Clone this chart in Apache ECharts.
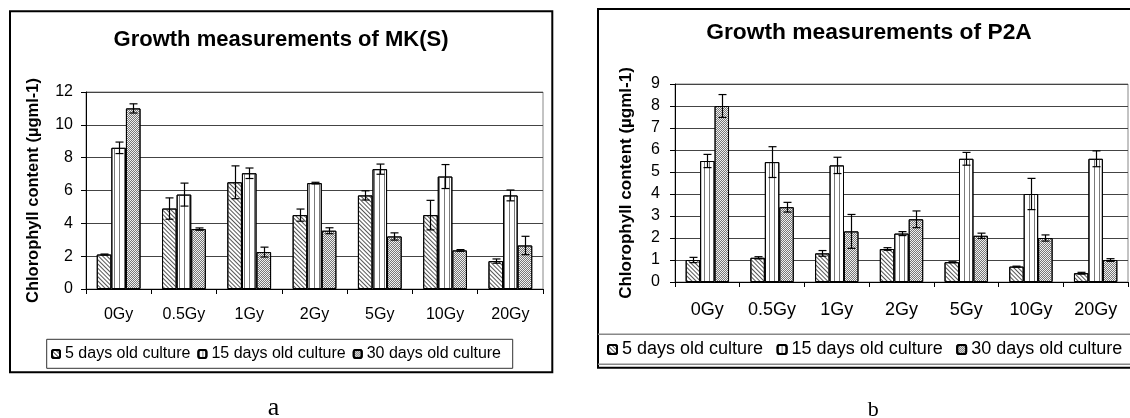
<!DOCTYPE html>
<html><head><meta charset="utf-8">
<script src="https://cdn.jsdelivr.net/npm/echarts@6/dist/echarts.min.js"></script>
<style>html,body{margin:0;padding:0;background:#fff}#c{width:1130px;height:418px}</style>
</head><body><div id="c"></div>
<script>
// ---- data ----
const categories = ['0Gy', '0.5Gy', '1Gy', '2Gy', '5Gy', '10Gy', '20Gy'];
const seriesNames = ['5 days old culture', '15 days old culture', '30 days old culture'];
const yTicksA = [0, 2, 4, 6, 8, 10, 12];
const yTicksB = [0, 1, 2, 3, 4, 5, 6, 7, 8, 9];

// chart a: MK(S)
const mk5 = [2.1, 4.9, 6.5, 4.5, 5.7, 4.5, 1.7];
const mk5Err = [0.03, 0.65, 1.0, 0.37, 0.28, 0.9, 0.13];
const mk15 = [8.6, 5.75, 7.05, 6.45, 7.3, 6.85, 5.7];
const mk15Err = [0.35, 0.7, 0.32, 0.05, 0.31, 0.73, 0.33];
const mk30 = [11.0, 3.65, 2.25, 3.55, 3.2, 2.35, 2.65];
const mk30Err = [0.28, 0.07, 0.3, 0.18, 0.22, 0.05, 0.56];

// chart b: P2A
const p5 = [1.0, 1.1, 1.3, 1.5, 0.9, 0.7, 0.4];
const p5Err = [0.12, 0.05, 0.13, 0.06, 0.02, 0.02, 0.04];
const p15 = [5.5, 5.45, 5.3, 2.2, 5.6, 4.0, 5.6];
const p15Err = [0.3, 0.7, 0.37, 0.09, 0.29, 0.71, 0.36];
const p30 = [8.0, 3.4, 2.3, 2.85, 2.1, 2.0, 1.0];
const p30Err = [0.52, 0.22, 0.77, 0.38, 0.12, 0.14, 0.06];

// ---- styles ----
const FONT = '"Liberation Sans", Arial, sans-serif';
const CAT_GAP = 0.33;
const decals = [
  {symbol: 'rect', symbolSize: 1, dashArrayX: [1, 0], dashArrayY: [1, 2], rotation: Math.PI / 4, color: '#555555'},
  {symbol: 'rect', symbolSize: 1, dashArrayX: [1, 0], dashArrayY: [1, 4], rotation: Math.PI / 2, color: '#7a7a7a'},
  {symbol: 'rect', symbolSize: 1, dashArrayX: [[1, 1], [0, 1, 1, 0]], dashArrayY: [1, 0], color: '#777777'}
];
const baseColors = ['#ffffff', '#ffffff', '#f0f0f0'];

function barSeries(idx, data, axis) {
  return {
    type: 'bar', name: seriesNames[idx], xAxisIndex: axis, yAxisIndex: axis,
    data: data, barGap: '0%', barCategoryGap: (CAT_GAP * 100) + '%',
    itemStyle: {color: baseColors[idx], borderColor: '#000', borderWidth: 1, decal: decals[idx]},
    emphasis: {disabled: true}, silent: true
  };
}
function errSeries(lists, axis) {
  const d = [];
  lists.forEach(function (pair, s) {
    pair[0].forEach(function (v, i) { d.push([i, s, v, pair[1][i]]); });
  });
  return {
    type: 'custom', name: 'err' + axis, xAxisIndex: axis, yAxisIndex: axis, z: 10, silent: true,
    encode: {x: 0, y: 2}, data: d,
    renderItem: function (params, api) {
      const cat = api.value(0), s = api.value(1), v = api.value(2), e = api.value(3);
      const catW = api.size([1, 0])[0];
      const bw = catW * (1 - CAT_GAP) / 3;
      const cx = Math.round(api.coord([cat, v])[0] + (s - 1) * bw) + 0.5;
      const yT = api.coord([cat, v + e])[1];
      const yB = api.coord([cat, v - e])[1];
      const hw = 4;
      const st = {stroke: '#000', lineWidth: 1.2};
      return {type: 'group', children: [
        {type: 'line', shape: {x1: cx, y1: yT, x2: cx, y2: yB}, style: st},
        {type: 'line', shape: {x1: cx - hw, y1: yT, x2: cx + hw, y2: yT}, style: st},
        {type: 'line', shape: {x1: cx - hw, y1: yB, x2: cx + hw, y2: yB}, style: st}
      ]};
    }
  };
}
function xAx(idx, fs, margin) {
  return {
    type: 'category', gridIndex: idx, data: categories,
    axisLine: {lineStyle: {color: '#000', width: 1}},
    axisTick: {show: true, length: 5, lineStyle: {color: '#000'}},
    axisLabel: {fontSize: fs, fontFamily: FONT, color: '#000', margin: margin}
  };
}
function yAx(idx, ticks, nameSize, gap, labMargin) {
  return {
    type: 'value', gridIndex: idx, min: ticks[0], max: ticks[ticks.length - 1], interval: ticks[1] - ticks[0],
    name: 'Chlorophyll content (µgml-1)', nameLocation: 'middle', nameGap: gap,
    nameTextStyle: {fontSize: nameSize, fontWeight: 'bold', fontFamily: FONT, color: '#000'},
    axisLine: {show: true, lineStyle: {color: '#000', width: 1}},
    axisTick: {show: true, length: 5, lineStyle: {color: '#000'}},
    axisLabel: {fontSize: 16, fontFamily: FONT, color: '#000', margin: labMargin},
    splitLine: {show: true, lineStyle: {color: '#444', width: 1}}
  };
}

const chart = echarts.init(document.getElementById('c'), null, {renderer: 'canvas'});
chart.setOption({
  animation: false,
  backgroundColor: '#fff',
  grid: [
    {left: 86, top: 92, width: 457, height: 197, show: true, borderColor: '#888', borderWidth: 1, backgroundColor: 'transparent'},
    {left: 675, top: 84, width: 453, height: 198, show: true, borderColor: '#888', borderWidth: 1, backgroundColor: 'transparent'}
  ],
  xAxis: [xAx(0, 16, 18), xAx(1, 18, 19)],
  yAxis: [yAx(0, yTicksA, 16.5, 44, 13), yAx(1, yTicksB, 17, 40, 15)],
  legend: [
    {data: seriesNames, left: 51, top: 346, padding: 0, itemWidth: 8, itemHeight: 8, itemGap: 7,
     textStyle: {fontSize: 16, fontFamily: FONT, color: '#000'}, selectedMode: false},
    {data: seriesNames, left: 607, top: 340.5, padding: 0, itemWidth: 9, itemHeight: 9, itemGap: 13.5,
     textStyle: {fontSize: 18, fontFamily: FONT, color: '#000'}, selectedMode: false}
  ],
  graphic: [
    {type: 'rect', shape: {x: 10, y: 11.3, width: 542.3, height: 361}, style: {fill: 'none', stroke: '#000', lineWidth: 2}},
    {type: 'rect', shape: {x: 46.7, y: 339.3, width: 466, height: 29}, style: {fill: 'none', stroke: '#333', lineWidth: 1}},
    {type: 'rect', shape: {x: 598, y: 9, width: 560, height: 358.7}, style: {fill: 'none', stroke: '#000', lineWidth: 2}},
    {type: 'line', shape: {x1: 598, y1: 334.3, x2: 1130, y2: 334.3}, style: {stroke: '#888', lineWidth: 1.5}},
    {type: 'line', shape: {x1: 598, y1: 364.3, x2: 1130, y2: 364.3}, style: {stroke: '#888', lineWidth: 1.5}},
    {type: 'text', x: 281, y: 40, style: {text: 'Growth measurements of MK(S)', fontSize: 22, fontWeight: 'bold', fontFamily: FONT, fill: '#000', align: 'center', verticalAlign: 'middle'}},
    {type: 'text', x: 869, y: 33, style: {text: 'Growth measurements of P2A', fontSize: 22.8, fontWeight: 'bold', fontFamily: FONT, fill: '#000', align: 'center', verticalAlign: 'middle'}},
    {type: 'text', x: 273.5, y: 408, style: {text: 'a', fontSize: 26, fontFamily: '"Liberation Serif", "Times New Roman", serif', fill: '#000', align: 'center', verticalAlign: 'middle'}},
    {type: 'text', x: 873.3, y: 410, style: {text: 'b', fontSize: 22, fontFamily: '"Liberation Serif", "Times New Roman", serif', fill: '#000', align: 'center', verticalAlign: 'middle'}}
  ],
  series: [
    barSeries(0, mk5, 0), barSeries(1, mk15, 0), barSeries(2, mk30, 0),
    barSeries(0, p5, 1), barSeries(1, p15, 1), barSeries(2, p30, 1),
    errSeries([[mk5, mk5Err], [mk15, mk15Err], [mk30, mk30Err]], 0),
    errSeries([[p5, p5Err], [p15, p15Err], [p30, p30Err]], 1)
  ]
});
</script></body></html>
